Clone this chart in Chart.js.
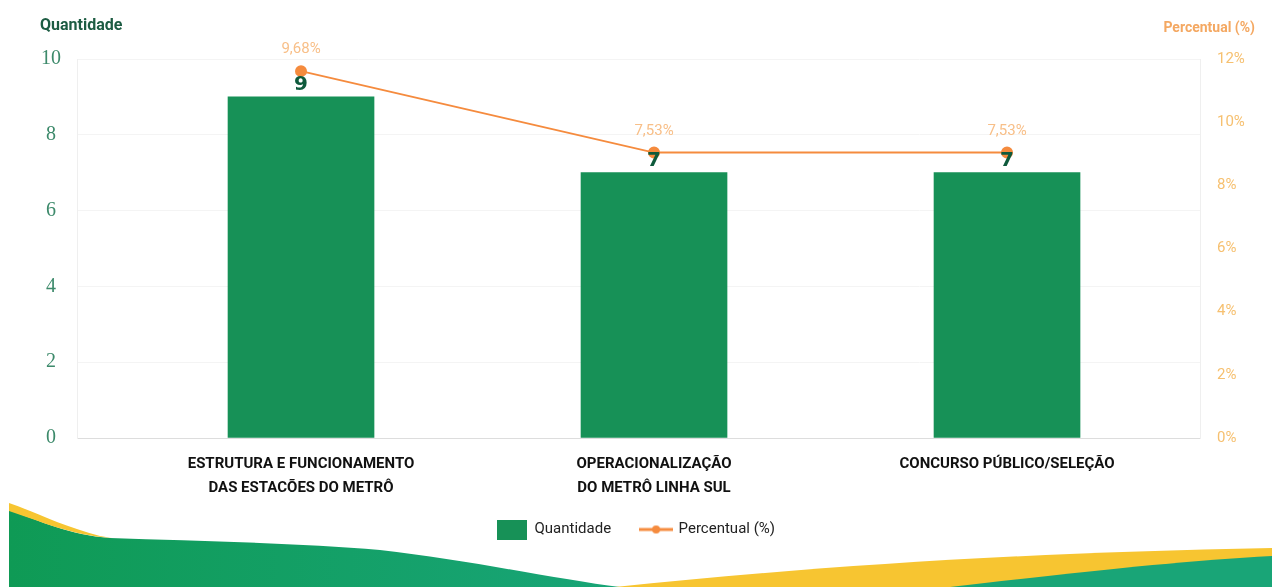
<!DOCTYPE html>
<html>
<head>
<meta charset="utf-8">
<script src="https://cdn.jsdelivr.net/npm/chart.js@4.4.0/dist/chart.umd.min.js"></script>
<style>
  html, body { margin: 0; padding: 0; background: #fff; }
  #wrap { position: relative; width: 1272px; height: 587px; overflow: hidden; }
  #wave, #chart { position: absolute; left: 0; top: 0; }
  .axis-title { position: absolute; font-family: "Liberation Sans Narrow", "Roboto", sans-serif; font-weight: bold; }
  #titleLeft { left: 40px; top: 15px; font-size: 16px; color: #1d5c43; }
  #titleRight { right: 17px; top: 19px; font-size: 14px; color: #f4a862; }
</style>
</head>
<body>
<div id="wrap">
  <!-- decorative wave at the bottom -->
  <svg id="wave" width="1272" height="587">
    <defs>
      <linearGradient id="g1" x1="0" x2="1" y1="0" y2="0">
        <stop offset="0" stop-color="#0f9a55"/>
        <stop offset="1" stop-color="#18a577"/>
      </linearGradient>
    </defs>
    <path d="M 9 510 C 40 521, 70 535, 110 538 C 200 541, 300 543, 380 550 C 470 560, 560 580, 620 587 L 9 587 Z" fill="url(#g1)"/>
    <path d="M 9 503 C 35 512, 62 526, 100 536 L 112 538 C 70 535, 40 521, 9 511 Z" fill="#f7c531"/>
    <path d="M 615 587 C 800 568, 1000 553, 1272 548 L 1272 587 Z" fill="#f7c531"/>
    <path d="M 950 587 C 1080 572, 1180 561, 1272 556 L 1272 587 Z" fill="#19a577"/>
  </svg>
  <canvas id="chart" width="1272" height="587"></canvas>
  <div class="axis-title" id="titleLeft">Quantidade</div>
  <div class="axis-title" id="titleRight">Percentual (%)</div>
</div>
<script>
// ── Data ────────────────────────────────────────────────────────
const categories = [
  ['ESTRUTURA E FUNCIONAMENTO', 'DAS ESTAÇÕES DO METRÔ'],
  ['OPERACIONALIZAÇÃO', 'DO METRÔ LINHA SUL'],
  ['CONCURSO PÚBLICO/SELEÇÃO']
];
const quantidade = [9, 7, 7];
const percentual = [9.68, 7.53, 7.53];
const leftTicks  = [0, 2, 4, 6, 8, 10];
const rightTicks = [0, 2, 4, 6, 8, 10, 12];

const GREEN  = '#179157';
const ORANGE = '#f58b3e';
const FONT   = '"Liberation Sans Narrow", "Roboto", sans-serif';

// ── Legend swatches ─────────────────────────────────────────────
function swatchBar() {
  const c = document.createElement('canvas');
  c.width = 30; c.height = 20;
  const x = c.getContext('2d');
  x.fillStyle = GREEN;
  x.fillRect(0, 0, 30, 20);
  return c;
}
function swatchLine() {
  const c = document.createElement('canvas');
  c.width = 34; c.height = 12;
  const x = c.getContext('2d');
  x.strokeStyle = ORANGE; x.lineWidth = 3;
  x.beginPath(); x.moveTo(0, 6); x.lineTo(34, 6); x.stroke();
  x.fillStyle = ORANGE;
  x.beginPath(); x.arc(17, 6, 4, 0, Math.PI * 2); x.fill();
  return c;
}

// ── Value labels ────────────────────────────────────────────────
const valueLabels = {
  id: 'valueLabels',
  afterDatasetsDraw(chart) {
    const ctx = chart.ctx;
    ctx.save();
    ctx.textAlign = 'center';
    ctx.textBaseline = 'bottom';

    const line = chart.getDatasetMeta(1);
    ctx.font = '15px ' + FONT;
    ctx.fillStyle = '#f8bf88';
    line.data.forEach((pt, i) => {
      ctx.fillText(percentual[i].toFixed(2).replace('.', ',') + '%', pt.x, pt.y - 14);
    });

    const bars = chart.getDatasetMeta(0);
    ctx.font = 'bold 20px "DejaVu Sans", sans-serif';
    ctx.fillStyle = '#0e5a3c';
    bars.data.forEach((bar, i) => {
      ctx.fillText(String(quantidade[i]), bar.x, bar.y - 2);
    });
    ctx.restore();
  }
};

// ── Chart ───────────────────────────────────────────────────────
new Chart(document.getElementById('chart'), {
  data: {
    datasets: [
      {
        type: 'bar',
        label: 'Quantidade',
        data: quantidade.map((v, i) => ({ x: i, y: v })),
        backgroundColor: GREEN,
        barThickness: 146,
        yAxisID: 'y',
        order: 1
      },
      {
        type: 'line',
        label: 'Percentual (%)',
        data: percentual.map((v, i) => ({ x: i, y: v })),
        borderColor: ORANGE,
        backgroundColor: ORANGE,
        borderWidth: 2,
        pointRadius: 5,
        pointHoverRadius: 5,
        tension: 0,
        yAxisID: 'y',
        order: 0
      }
    ]
  },
  options: {
    responsive: false,
    animation: false,
    layout: { padding: { top: 59, bottom: 40, left: 0, right: 0 } },
    plugins: {
      tooltip: { enabled: false },
      legend: {
        position: 'bottom',
        labels: {
          usePointStyle: true,
          pointStyleWidth: 30,
          padding: 30,
          color: '#222',
          font: { family: FONT, size: 15 },
          sort: (a, b) => a.datasetIndex - b.datasetIndex,
          generateLabels(chart) {
            const items = Chart.defaults.plugins.legend.labels.generateLabels(chart);
            items.forEach(it => {
              it.pointStyle = it.datasetIndex === 0 ? swatchBar() : swatchLine();
            });
            return items;
          }
        }
      }
    },
    scales: {
      x: {
        type: 'linear',
        offset: false,
        min: -0.6346,
        max: 2.5467,
        afterBuildTicks: s => { s.ticks = categories.map((c, i) => ({ value: i })); },
        afterFit: s => { s.height = 54; },
        grid: { display: false, drawTicks: false },
        border: { display: true, color: '#dddddd' },
        ticks: {
          padding: 14,
          color: '#111',
          font: { family: FONT, size: 15, weight: 'bold', lineHeight: 1.6 },
          callback: v => categories[v]
        }
      },
      y: {
        position: 'left',
        min: 0,
        max: 10,
        afterBuildTicks: s => { s.ticks = leftTicks.map(v => ({ value: v })); },
        afterFit: s => { s.width = 77; },
        grid: { color: '#f4f4f4', drawTicks: false },
        border: { display: true, color: '#efefef' },
        ticks: {
          padding: 16,
          crossAlign: 'center',
          color: '#3d8a6b',
          font: { family: '"Liberation Serif", serif', size: 20 }
        }
      },
      y1: {
        position: 'right',
        min: 0,
        max: 12,
        afterBuildTicks: s => { s.ticks = rightTicks.map(v => ({ value: v })); },
        afterFit: s => { s.width = 72; },
        grid: { display: false, drawTicks: false },
        border: { display: true, color: '#efefef' },
        ticks: {
          padding: 17,
          color: '#f6c070',
          font: { family: FONT, size: 15 },
          callback: v => v + '%'
        }
      }
    }
  },
  plugins: [valueLabels]
});
</script>
</body>
</html>
